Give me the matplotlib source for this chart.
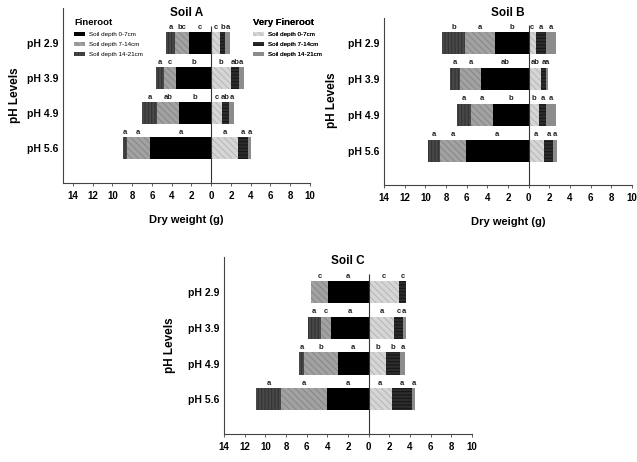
import numpy as np
import matplotlib
matplotlib.use('Agg')
import matplotlib.pyplot as plt
from matplotlib.patches import Patch
from matplotlib.ticker import FuncFormatter

plt.rcParams['font.family'] = ['Liberation Sans', 'DejaVu Sans']
plt.rcParams['font.weight'] = 'bold'
plt.rcParams['hatch.linewidth'] = 0.7

# ---------------------------------------------------------------------------
# data (dry weight, g); d1 = 0-7cm, d2 = 7-14cm, d3 = 14-21cm
# ---------------------------------------------------------------------------
ph_levels = ['pH 2.9', 'pH 3.9', 'pH 4.9', 'pH 5.6']
depth_labels = ['Soil depth 0-7cm', 'Soil depth 7-14cm', 'Soil depth 14-21cm']

# Soil A
a_fine_d1 = [2.2, 3.6, 3.27, 6.2]
a_fine_d2 = [1.5, 1.15, 2.25, 2.36]
a_fine_d3 = [0.85, 0.8, 1.45, 0.37]
a_vfine_d1 = [0.85, 2.0, 1.1, 2.7]
a_vfine_d2 = [0.57, 0.8, 0.7, 1.0]
a_vfine_d3 = [0.47, 0.47, 0.5, 0.34]
a_fine_letters = [['c', 'bc', 'a'], ['b', 'c', 'a'], ['b', 'ab', 'a'], ['a', 'a', 'a']]
a_vfine_letters = [['c', 'b', 'a'], ['b', 'ab', 'a'], ['c', 'ab', 'a'], ['a', 'a', 'a']]

# Soil B
b_fine_d1 = [3.25, 4.6, 3.47, 6.07]
b_fine_d2 = [2.9, 2.05, 2.1, 2.5]
b_fine_d3 = [2.27, 0.94, 1.36, 1.2]
b_vfine_d1 = [0.68, 1.2, 1.0, 1.46]
b_vfine_d2 = [1.04, 0.52, 0.71, 0.9]
b_vfine_d3 = [0.9, 0.16, 0.97, 0.42]
b_fine_letters = [['b', 'a', 'b'], ['ab', 'a', 'a'], ['b', 'a', 'a'], ['a', 'a', 'a']]
b_vfine_letters = [['c', 'a', 'a'], ['ab', 'a', 'a'], ['b', 'a', 'a'], ['a', 'a', 'a']]

# Soil C
c_fine_d1 = [3.94, 3.6, 2.97, 4.03]
c_fine_d2 = [1.6, 1.06, 3.26, 4.42]
c_fine_d3 = [0.0, 1.23, 0.52, 2.42]
c_vfine_d1 = [2.97, 2.48, 1.68, 2.23]
c_vfine_d2 = [0.6, 0.8, 1.39, 2.0]
c_vfine_d3 = [0.0, 0.32, 0.45, 0.29]
c_fine_letters = [['a', 'c', ''], ['a', 'c', 'a'], ['a', 'b', 'a'], ['a', 'a', 'a']]
c_vfine_letters = [['c', 'c', ''], ['a', 'c', 'a'], ['b', 'b', 'a'], ['a', 'a', 'a']]

# (face colour, hatch colour, hatch)
fine_styles = [('#000000', '#000000', None),
               ('#a2a2a2', '#868686', '\\\\\\\\\\'),
               ('#484848', '#303030', '|||||')]
vfine_styles = [('#d6d6d6', '#b6b6b6', '\\\\\\\\\\'),
                ('#2c2c2c', '#141414', '-----'),
                ('#8c8c8c', '#8c8c8c', None)]

W, H = 637, 462
fig = plt.figure(figsize=(W / 100, H / 100), dpi=100)


def add_axes(l, t, r, b):
    # pixel box -> figure fraction
    return fig.add_axes([l / W, 1 - b / H, (r - l) / W, (b - t) / H])


def draw_side(ax, segs, letters, styles, sign):
    y = np.arange(len(ph_levels))
    left = np.zeros(len(y))
    for k, (vals, (fc, hc, hatch)) in enumerate(zip(segs, styles)):
        vals = np.asarray(vals, dtype=float)
        ax.barh(y, sign * vals, left=sign * left, height=0.62, color=fc,
                edgecolor=hc, hatch=hatch, linewidth=0)
        for i in range(len(y)):
            lab = letters[i][k]
            if lab:
                ax.text(sign * (left[i] + vals[i] / 2), y[i] - 0.35, lab,
                        ha='center', va='bottom', fontsize=5.5, color='#222222')
        left += vals


def setup(ax, xlim, ylim, title, title_y, xlabel=True):
    ax.set_xlim(*xlim)
    ax.set_ylim(*ylim)
    ax.set_xticks(np.arange(-14, 11, 2))
    ax.xaxis.set_major_formatter(FuncFormatter(lambda v, p: f'{abs(v):g}'))
    ax.set_yticks(range(len(ph_levels)))
    ax.set_yticklabels(ph_levels, fontsize=7.5)
    ax.tick_params(axis='y', length=0, pad=3)
    ax.tick_params(axis='x', length=2.5, width=0.6, labelsize=7, pad=3,
                   color='#444444')
    for s in ['top', 'right']:
        ax.spines[s].set_visible(False)
    for s in ['left', 'bottom']:
        ax.spines[s].set_color('#444444')
        ax.spines[s].set_linewidth(0.8)
    ax.vlines(0, ylim[0], -0.5, color='#333333', lw=0.8, zorder=3)
    ax.text(0.5, title_y, title, transform=ax.transAxes, ha='center',
            va='center', fontsize=8.5)
    if xlabel:
        ax.set_xlabel('Dry weight (g)', fontsize=8, fontweight='bold', labelpad=10)


axA = add_axes(63, 8, 310, 183)
axB = add_axes(384, 18, 632, 185)
axC = add_axes(224, 257, 472, 434)

draw_side(axA, [a_fine_d1, a_fine_d2, a_fine_d3], a_fine_letters, fine_styles, -1)
draw_side(axA, [a_vfine_d1, a_vfine_d2, a_vfine_d3], a_vfine_letters, vfine_styles, 1)
draw_side(axB, [b_fine_d1, b_fine_d2, b_fine_d3], b_fine_letters, fine_styles, -1)
draw_side(axB, [b_vfine_d1, b_vfine_d2, b_vfine_d3], b_vfine_letters, vfine_styles, 1)
draw_side(axC, [c_fine_d1, c_fine_d2, c_fine_d3], c_fine_letters, fine_styles, -1)
draw_side(axC, [c_vfine_d1, c_vfine_d2, c_vfine_d3], c_vfine_letters, vfine_styles, 1)

setup(axA, (-15, 10), (4, -1), 'Soil A', 0.97)
setup(axB, (-14, 10), (3.95, -0.7), 'Soil B', 1.03)
setup(axC, (-14, 10), (3.97, -0.98), 'Soil C', 0.977, xlabel=False)

fig.text(15 / W, 1 - 95 / H, 'pH Levels', rotation=90, ha='center', va='center', fontsize=8.5)
fig.text(332 / W, 1 - 100 / H, 'pH Levels', rotation=90, ha='center', va='center', fontsize=8.5)
fig.text(170 / W, 1 - 345 / H, 'pH Levels', rotation=90, ha='center', va='center', fontsize=8.5)

# legends
for styles, title, x0 in [(fine_styles, 'Fineroot', 74), (vfine_styles, 'Very Fineroot', 253)]:
    handles = [Patch(facecolor=fc, edgecolor=hc, hatch=h, linewidth=0) for fc, hc, h in styles]
    leg = axA.legend(handles, depth_labels, title=title, loc='upper left',
                     bbox_to_anchor=(x0 / W, 1 - 18 / H), bbox_transform=fig.transFigure,
                     frameon=False, fontsize=4.5, handlelength=1.8, handleheight=0.7,
                     handletextpad=0.6, labelspacing=0.75, borderpad=0, borderaxespad=0,
                     alignment='left', title_fontproperties={'weight': 'bold', 'size': 6.8})
    for t in leg.get_texts():
        t.set_fontweight('normal')
    axA.add_artist(leg)

fig.savefig('out.png', dpi=100)
